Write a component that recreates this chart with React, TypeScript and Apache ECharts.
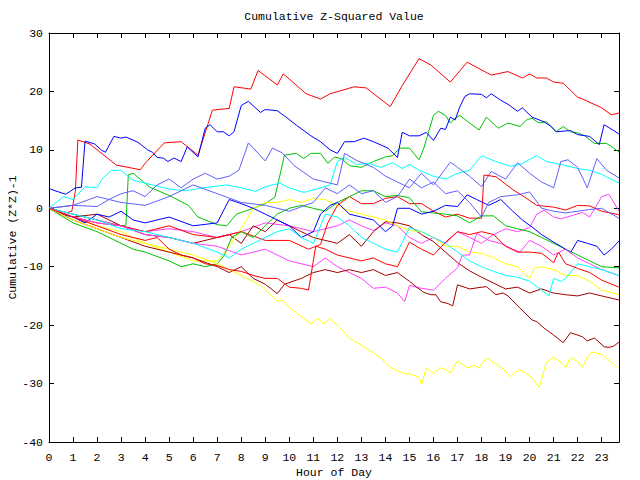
import React, { useEffect, useRef } from "react";
import * as echarts from "echarts";

const TITLE = "Cumulative Z-Squared Value";
const X_NAME = "Hour of Day";
const Y_NAME = "Cumulative (Z*Z)-1";
const X_MAX = 23.72;
const Y_MIN = -40;
const Y_MAX = 30;

// [hour, value] pairs
const redTop = [[0,0],[0.5,-1],[0.95,-0.5],[1.1,3],[1.2,11.7],[1.7,11],[2.8,7.4],[3.8,6.6],[4.0,7.7],[4.8,11.2],[5.5,11.4],[6.2,9.1],[6.8,16.8],[7.5,17.1],[7.7,20.8],[8.4,20.4],[8.7,23.6],[9.5,21.1],[9.75,23],[10.7,19.6],[11.3,18.7],[11.7,19.6],[12.7,20.8],[13.2,20.6],[14.2,17.4],[14.7,21],[15.2,24.3],[15.4,25.6],[15.9,24.5],[16.7,21.6],[17.4,25],[18.4,22.8],[19.1,23.4],[19.7,22.3],[20.0,23],[20.3,22.3],[20.7,22.3],[21,21.6],[21.4,21.4],[22,19],[22.2,18.7],[23,17.2],[23.4,16],[23.72,16.3]];
const blueTop = [[0,3.4],[0.25,3],[0.7,2.4],[1.1,3.5],[1.35,3.6],[1.5,11.5],[1.9,11],[2.2,9.9],[2.35,9.6],[2.7,12.3],[3.0,12],[3.2,12.2],[3.7,11.3],[4.1,10],[4.3,9.6],[4.5,8.7],[4.75,8.6],[4.95,8],[5.2,8.6],[5.5,8],[5.75,10.5],[6.2,8.8],[6.5,13.7],[6.7,14.3],[7.0,13.1],[7.25,13.1],[7.5,12.4],[7.7,13.1],[8.0,17.6],[8.3,18.3],[8.8,16.4],[9.0,16.9],[9.5,16.7],[9.9,15.5],[10.3,14.2],[10.9,12.4],[11.3,11.4],[11.7,10],[12.0,9.4],[12.3,11.4],[12.7,11.4],[13.1,12],[13.5,11.4],[14.1,10.3],[14.5,8.7],[14.7,13],[15.0,12.4],[15.4,12.4],[15.7,13],[16.0,11.6],[16.3,13.7],[16.5,13.5],[16.7,15.6],[16.9,15.1],[17.1,17.4],[17.3,19.1],[17.5,19.6],[18.0,19.5],[18.2,18.9],[18.4,19.6],[18.8,18.5],[19.1,17.8],[19.5,16.6],[19.7,17.2],[20.1,15.6],[20.6,14.8],[20.9,14],[21.1,13.1],[21.7,13.3],[22,12.6],[22.5,12.3],[22.9,10.9],[23.1,14.3],[23.5,13.3],[23.72,12.7]];
const greenTop = [[0,0],[1,-1],[2,-2],[3,-3],[3.2,-2.9],[3.3,5.7],[3.5,6],[4.2,3.6],[5,2.2],[5.8,0.5],[6.2,-1.5],[7,-2.8],[7.4,-3],[7.8,-1],[8.5,0],[9,0.8],[9.4,1.9],[9.7,7.3],[9.8,9.1],[10.3,9.4],[10.6,8.5],[10.9,9.4],[11.3,9.4],[11.6,7.7],[11.9,8.8],[12.2,8.4],[12.5,7.3],[13,7],[13.5,8],[14,8.8],[14.3,9],[14.6,10.3],[15,10.3],[15.4,8.3],[15.6,10.3],[15.8,13.1],[16,15.9],[16.2,16.6],[16.5,15.9],[16.7,14.6],[16.9,15.4],[17.1,15.9],[17.4,14.9],[17.9,13.4],[18.2,15.6],[18.7,13.7],[19.1,14.6],[19.6,14.0],[19.9,15.2],[20.1,15.4],[20.4,14.6],[20.7,14.8],[21.1,13.1],[21.4,14.0],[21.7,13.1],[22,12.9],[22.3,12.4],[22.7,11.1],[23.2,11.1],[23.5,10.3],[23.72,9.6]];
const slateTop = [[0,0],[1,0.5],[2,0.3],[2.5,1.5],[3,2.5],[3.5,3],[4,2],[4.5,4],[5,5],[5.5,3.5],[6,5],[6.5,6],[7,5],[7.5,5.5],[7.9,6.5],[8.3,11.2],[9,8.1],[9.3,10.3],[9.7,9.5],[10.2,7.3],[11,5],[12,4],[12.3,9.4],[12.8,8.2],[13.5,7],[14,5.5],[14.5,4.5],[15,3.5],[15.5,6],[16,4],[16.7,7.9],[17,7],[17.5,5.5],[18,3.7],[18.4,6.3],[19,5],[19.5,7.8],[20,6],[20.5,4.5],[21,3.5],[21.3,8],[21.6,8.3],[22,7],[22.4,3.5],[22.8,8.5],[23.2,6.5],[23.72,5.2]];
const cyanTop = [[0,0],[0.6,2],[1,1.5],[1.5,3.7],[2,3.5],[2.2,5],[2.6,6.5],[3,6.5],[3.5,4.8],[4.3,4],[5,3.3],[5.7,3],[6.4,3.5],[7.4,4],[8,3.5],[8.6,2.9],[9,3.7],[9.6,4.3],[10,3.5],[10.6,2.7],[11.3,3.5],[11.7,4],[12,8],[12.3,8.7],[12.8,7.5],[13.3,7.7],[13.8,7],[14.3,7.8],[14.7,6.8],[15,7.5],[15.4,6.5],[16,5.5],[16.5,5],[17,6],[17.5,6.5],[18,9],[18.6,8],[19.2,7.2],[19.6,7.5],[20.3,9],[20.7,8],[21.3,7.5],[22,6.8],[22.5,6.5],[23,5.8],[23.72,4.3]];
const slateMid = [[0,0],[1,0.5],[2,2],[3,1],[4,0.5],[5,2],[6,4],[7,2.5],[8,1],[9,0.5],[10,-0.5],[11,1],[11.5,3.5],[12,2.5],[12.5,4],[13,2.5],[13.5,3],[14,1],[14.5,2],[15,5],[15.5,3.5],[16,4.5],[16.5,2.5],[17,3],[17.5,1],[18,-1.5],[18.3,1],[18.8,2],[19.5,2.3],[20,2.8],[20.5,0],[21,-0.5],[21.5,-0.8],[22,-0.5],[22.5,-0.2],[23,0],[23.72,-1.7]];
const redMid = [[0,0],[1,-1.5],[2,-2.5],[3,-3],[4,-4],[5,-3],[6,-4.5],[7,-5],[8,-4],[9,-5.5],[10,-5.5],[10.8,-7],[11.3,-6.2],[11.6,-2.5],[12,0.5],[12.5,2],[13,0.8],[13.5,0.8],[14,1.7],[14.5,2],[15,0.8],[15.5,0.8],[16,-0.5],[16.5,-1.5],[17,-1],[17.5,-1.7],[18,-1.7],[18.1,5.7],[18.6,5.4],[19.3,3.2],[19.8,1.9],[20.3,0.5],[21,0.2],[21.5,-0.3],[22,0.5],[22.5,0.4],[23,-0.5],[23.72,-1.1]];
const magentaUp = [[0,0],[1,-1],[2,-2],[3,-3],[4,-4],[5,-3.5],[6,-4],[7,-5],[8,-4],[9,-2.5],[10,-3],[11,-4],[12,-3],[12.5,-2],[13,-3],[13.5,-3.8],[14,-2.5],[14.5,-3],[15,-5],[15.5,-6],[16,-5],[16.5,-6],[17,-4],[17.5,-5],[18,-6],[18.5,-4.5],[19,-3.5],[19.5,-4],[20,-3.3],[20.3,-1],[20.6,-0.3],[21,-1.5],[21.3,-1.8],[21.8,-1.2],[22.2,-0.7],[22.5,-1.5],[23,2],[23.3,2.4],[23.72,-0.5]];
const magentaLow = [[0,0],[1,-1.5],[2,-2.5],[3,-3],[4,-4.5],[5,-5],[6,-6],[7,-6.5],[8,-8],[9,-7],[10,-9],[11,-10],[11.5,-8.5],[12,-10],[13,-12],[13.5,-13.7],[14,-13.5],[14.5,-14.5],[14.8,-16],[15,-13.2],[15.5,-13.7],[16,-14],[16.5,-12],[17,-10.2],[17.2,-8],[17.5,-8],[17.8,-4.3],[18.3,-5.5],[18.8,-6],[19.3,-7],[19.6,-7.5],[20,-5.5],[20.5,-6.5],[21,-8],[21.5,-7],[22,-8.5],[22.5,-9.5],[23,-10.5],[23.72,-11.5]];
const darkRedUp = [[0,0],[1,-1.5],[2,-1],[3,-3],[4,-4.5],[5,-5],[6,-6],[7,-5],[7.5,-4.5],[8,-6],[8.5,-3],[9,-4],[9.5,-2],[10,-3],[11,-5],[12,-6],[12.5,-4.5],[13,-6.5],[13.5,-4],[14,-2.3],[14.5,-2.5],[15,-3],[15.5,-4.5],[16,-5.7],[16.5,-7.5],[17,-9.3],[17.5,-10.7],[18,-11.8],[18.5,-12.8],[19,-13.8],[19.5,-13.5],[20,-14.5],[20.5,-13.8],[21,-14.5],[21.5,-14.8],[22,-15],[22.5,-14.5],[23,-15],[23.72,-15.7]];
const darkRedLow = [[0,0],[1,-2],[2,-3.5],[3,-5],[4,-6.5],[5,-7.5],[6,-8.5],[7,-10],[7.5,-11],[8,-10],[8.5,-12],[9,-13],[9.5,-14.6],[9.8,-13],[10.5,-12],[11,-11],[11.5,-10.5],[12,-11],[12.5,-10.5],[13,-11],[13.5,-10.5],[14,-11.5],[14.5,-11],[15,-12.5],[15.3,-13.5],[15.6,-14.4],[15.9,-14.8],[16.1,-14.8],[16.3,-16],[16.6,-16.3],[16.8,-16.7],[17.0,-13.1],[17.5,-13.8],[18.2,-13.4],[18.6,-14.8],[18.9,-14.5],[19.1,-15],[19.6,-17.1],[20.1,-19.1],[20.3,-19.4],[20.6,-20.5],[21,-21.7],[21.4,-23],[21.7,-21.3],[22,-21.7],[22.2,-22],[22.4,-22.7],[22.7,-22.2],[23.1,-23.7],[23.3,-23.8],[23.5,-23.6],[23.72,-22.9]];
const yellowLow = [[0,0],[1,-2],[2,-3.5],[3,-5],[4,-6],[5,-7],[6,-8],[7,-9.5],[8,-11.5],[8.8,-13.2],[9.5,-15.9],[9.7,-15.7],[10.1,-17.3],[10.9,-19.8],[11.2,-18.8],[11.4,-19.8],[11.7,-18.9],[12.1,-20.4],[12.5,-22.2],[13.1,-23.7],[13.5,-24.7],[13.9,-26],[14.2,-27.2],[14.5,-27.8],[14.8,-28.3],[15.1,-28.4],[15.4,-29],[15.5,-30.2],[15.7,-27.3],[16,-28.3],[16.3,-27.3],[16.5,-27.6],[16.7,-28.2],[17,-26.1],[17.4,-27.3],[17.7,-26.9],[17.9,-27.3],[18.2,-25.6],[18.4,-26.1],[18.9,-27.5],[19.2,-28.8],[19.5,-27.8],[19.7,-27.8],[20.1,-29],[20.4,-30.7],[20.7,-26.3],[21,-25.5],[21.3,-26.3],[21.5,-27.3],[21.7,-25.5],[22,-26.3],[22.2,-27.2],[22.4,-25.5],[22.6,-24.6],[23,-25],[23.3,-26],[23.63,-27.2]];
const blueMid = [[0,0],[0.5,-1],[1,-1.5],[1.5,-2.5],[2,-1],[2.5,-1.5],[3,-0.5],[3.5,-2],[4,-2.5],[5,-1.5],[6,-3],[7,-2.5],[7.5,1.5],[8,0.8],[8.5,0],[9,-1],[9.5,-2],[10,-3],[10.5,-5],[11,-4],[11.3,-1],[11.7,0.5],[12,1],[12.5,-1],[13,-1.5],[13.5,-2],[14,-4],[14.3,-3],[14.5,0],[15,0],[15.5,-1],[16,-0.5],[16.5,0.5],[17,0.3],[17.4,2.3],[17.8,1.5],[18.3,0.5],[18.8,1.5],[19.3,-0.5],[19.7,-2],[20.1,-3.2],[20.5,-4.5],[21,-5.8],[21.3,-6.5],[21.7,-7.6],[22,-5.5],[22.4,-6],[22.8,-6.5],[23.1,-8],[23.4,-7],[23.72,-5.6]];
const greenMid = [[0,0],[1,-2.5],[2,-4],[2.5,-5],[3,-6],[3.5,-7],[4,-7.5],[5,-9],[5.5,-10],[6,-9.5],[6.5,-10],[7,-9.5],[7.3,-8],[7.6,-5],[8,-4],[8.5,-5],[9,-3],[9.5,-1],[10,0],[10.5,0.5],[11,0],[11.5,-0.5],[12,1],[12.5,2],[13,3],[13.5,3],[14,2],[14.5,2.2],[15,1.8],[15.5,-0.6],[16,-0.8],[16.5,-1],[17,-1.3],[17.5,-2.5],[18,-1.3],[18.5,-1.3],[19,-3],[19.5,-3.5],[20,-4],[20.5,-5],[21,-6],[21.5,-7],[22,-8],[22.5,-9],[23,-10],[23.72,-10.2]];
const redLow = [[0,0],[1,-1.5],[2,-3],[3,-4.5],[4,-5.5],[4.5,-5],[5,-7],[5.5,-8],[6,-8.5],[6.5,-9.5],[7,-9.8],[7.5,-10.5],[8,-10.8],[8.5,-11.5],[9,-12],[9.5,-12],[10,-13.5],[10.5,-13.7],[10.8,-14],[11.1,-6.5],[11.5,-7],[12,-8],[12.5,-8.5],[13,-9],[13.5,-8.5],[14,-9.5],[14.5,-10],[15,-5.8],[15.5,-7],[16,-8],[16.5,-5.8],[17,-4],[17.5,-4.5],[18,-4],[18.5,-4.5],[19,-6.5],[19.5,-7.5],[20,-7.5],[20.5,-7.7],[21,-9.3],[21.2,-7.5],[21.5,-9.5],[22,-10.3],[22.5,-11],[23,-12.3],[23.72,-13.5]];
const cyanLow = [[0,0],[1,-1],[2,-2],[3,-3.5],[4,-4],[5,-5],[6,-6],[7,-7.5],[7.5,-8.5],[8,-7],[8.5,-6],[9,-5],[9.5,-4],[10,-3.5],[10.5,-5],[11,-6],[11.5,-1],[12,-1.5],[12.5,-3],[13,-5],[13.5,-6],[14,-7],[14.5,-7.5],[15,-3.3],[15.5,-4],[16,-5],[16.5,-6],[17,-7.5],[17.5,-9],[18,-10],[18.5,-10.8],[19,-11.5],[19.5,-11.8],[20,-12.5],[20.5,-14],[20.8,-15],[21,-12],[21.3,-12.5],[21.5,-12],[22,-9.5],[22.5,-10],[23,-10.5],[23.72,-11.5]];
const yellowMid = [[0,0],[1,-1.5],[2,-3],[3,-4],[4,-6],[5,-7.5],[6,-9],[7,-9],[7.5,-6.5],[8,-3.5],[8.5,0],[9,1],[9.5,1],[10,1.5],[10.5,1],[11,1.7],[11.5,1.5],[12,0.5],[12.5,-0.5],[13,-1],[13.5,-1.5],[14,-2],[14.5,-3],[15,-3.8],[15.5,-4],[16,-5],[16.5,-6.5],[17,-6.5],[17.5,-7.5],[18,-7.7],[18.5,-8.5],[19,-9.5],[19.5,-10],[20,-12],[20.2,-10.3],[20.5,-10],[21,-10.5],[21.5,-11.5],[22,-11.5],[22.5,-12.5],[23,-14],[23.72,-14.8]];

const SERIES: { name: string; color: string; data: number[][] }[] = [
  { name: "s1", color: "#ff0000", data: redTop },
  { name: "s2", color: "#00c000", data: greenTop },
  { name: "s3", color: "#0000ff", data: blueTop },
  { name: "s4", color: "#ff40ff", data: magentaUp },
  { name: "s5", color: "#00ffff", data: cyanTop },
  { name: "s6", color: "#a00000", data: darkRedUp },
  { name: "s7", color: "#ffff00", data: yellowMid },
  { name: "s8", color: "#6060ff", data: slateTop },
  { name: "s9", color: "#ff0000", data: redMid },
  { name: "s10", color: "#00c000", data: greenMid },
  { name: "s11", color: "#0000ff", data: blueMid },
  { name: "s12", color: "#ff40ff", data: magentaLow },
  { name: "s13", color: "#00ffff", data: cyanLow },
  { name: "s14", color: "#a00000", data: darkRedLow },
  { name: "s15", color: "#ffff00", data: yellowLow },
  { name: "s16", color: "#6060ff", data: slateMid },
  { name: "s17", color: "#ff0000", data: redLow },
];

const FONT = "'Liberation Mono', 'DejaVu Sans Mono', monospace";

export default function App() {
  const ref = useRef<HTMLDivElement>(null);
  useEffect(() => {
    if (!ref.current) return;
    const chart = echarts.init(ref.current, null, { renderer: "svg" });
    const axisLine = { show: true, onZero: false, lineStyle: { color: "#000", width: 1 } };
    const tick = { show: true, inside: true, length: 5, lineStyle: { color: "#000" } };
    const labelStyle = { color: "#000", fontFamily: FONT, fontSize: 11.5 };
    chart.setOption({
      animation: false,
      backgroundColor: "#fff",
      title: {
        text: TITLE,
        left: 334,
        top: 10,
        textAlign: "center",
        padding: 0,
        textStyle: { ...labelStyle, fontWeight: "normal" },
      },
      grid: { left: 49, right: 21, top: 33, bottom: 38, containLabel: false, outerBoundsMode: "none" },
      xAxis: [
        {
          type: "value", min: 0, max: X_MAX, interval: 1, position: "bottom",
          axisLine, axisTick: tick, splitLine: { show: false },
          axisLabel: { ...labelStyle, margin: 9, showMaxLabel: false,
            formatter: (v: number) => (Number.isInteger(v) ? String(v) : "") },
          name: X_NAME, nameLocation: "middle", nameGap: 24, nameMoveOverlap: false,
          nameTextStyle: labelStyle,
        },
        {
          type: "value", min: 0, max: X_MAX, interval: 1, position: "top",
          axisLine, axisTick: tick, splitLine: { show: false }, axisLabel: { show: false },
        },
      ],
      yAxis: [
        {
          type: "value", min: Y_MIN, max: Y_MAX, interval: 10, position: "left",
          axisLine, axisTick: tick, splitLine: { show: false },
          axisLabel: { ...labelStyle, margin: 6 },
          name: Y_NAME, nameLocation: "middle", nameGap: 31, nameMoveOverlap: false,
          nameTextStyle: labelStyle,
        },
        {
          type: "value", min: Y_MIN, max: Y_MAX, interval: 10, position: "right",
          axisLine, axisTick: tick, splitLine: { show: false }, axisLabel: { show: false },
        },
      ],
      series: SERIES.map((s) => ({
        name: s.name,
        type: "line",
        data: s.data,
        showSymbol: false,
        symbol: "none",
        lineStyle: { color: s.color, width: 1 },
        itemStyle: { color: s.color },
        clip: true,
      })),
    });
    return () => chart.dispose();
  }, []);
  return (
    <div
      ref={ref}
      style={{ position: "fixed", left: 0, top: 0, width: 640, height: 480, background: "#fff" }}
    />
  );
}
